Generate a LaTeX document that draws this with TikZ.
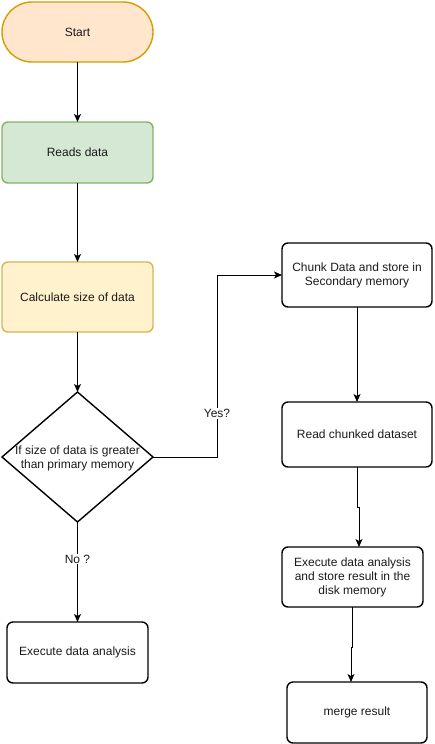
\documentclass[tikz,border=0pt]{standalone}
\usepackage{fontspec}
\setmainfont{Liberation Sans}
\usetikzlibrary{arrows.meta,shapes.geometric,calc}
\definecolor{startfill}{HTML}{FFE6CC}
\definecolor{startline}{HTML}{D79B00}
\definecolor{greenfill}{HTML}{D5E8D4}
\definecolor{greenline}{HTML}{82B366}
\definecolor{yellowfill}{HTML}{FFF2CC}
\definecolor{yellowline}{HTML}{D6B656}
\definecolor{txt}{HTML}{1A1A1A}
\begin{document}
\begin{tikzpicture}[x=1pt,y=-1pt,
  every node/.style={font=\fontsize{12}{14}\selectfont, text=txt, inner sep=0pt, outer sep=0pt},
  box/.style={draw, line width=1.4pt, rounded corners=6pt, align=center},
  arr/.style={draw, line width=1pt, -{Stealth[length=8pt,width=7pt,inset=2pt]}},
  lbl/.style={fill=white, inner sep=1pt}]
\useasboundingbox (0,0) rectangle (434,744);

% left column
\node[box, rounded corners=30pt, fill=startfill, draw=startline,
      minimum width=151pt, minimum height=60pt] (start) at (77.5,32) {Start};
\node[box, fill=greenfill, draw=greenline,
      minimum width=151pt, minimum height=61pt] (reads) at (77.5,152.5) {Reads data};
\node[box, fill=yellowfill, draw=yellowline,
      minimum width=151pt, minimum height=70pt] (calc) at (77.5,297) {Calculate size of data};
\node[draw, line width=1.4pt, diamond, minimum width=151pt, minimum height=130pt] (dia) at (77.5,457) {};
\node[align=center] (diatext) at (77.5,458) {If size of data is greater\\than primary memory};
\node[box, minimum width=141pt, minimum height=61pt] (exec1) at (77.5,652.5) {Execute data analysis};

% right column
\node[box, minimum width=150pt, minimum height=64pt] (chunk) at (357,275) {Chunk Data and store in\\Secondary memory};
\node[box, minimum width=150pt, minimum height=65pt] (readc) at (357,434.5) {Read chunked dataset};
\node[box, minimum width=141pt, minimum height=60pt] (exec2) at (352.5,577) {Execute data analysis\\and store result in the\\disk memory};
\node[box, minimum width=140pt, minimum height=61pt] (merge) at (357,712.5) {merge result};

% bend points
\coordinate (yesx) at (217,0);
\coordinate (j1) at (357,507);
\coordinate (j2) at (359,0);
\coordinate (j3) at (352,647);
\coordinate (j4) at (351,0);

% connectors
\draw[arr] (start.south) -- (reads.north);
\draw[arr] (reads.south) -- (calc.north);
\draw[arr] (calc.south) -- (dia.north);
\draw[arr] (dia.south) -- node[lbl, pos=0.37] (nolbl) {No ?} (exec1.north);
\draw[arr] (dia.east) -- (yesx |- dia.east) -- node[lbl, pos=0.24] (yeslbl) {Yes?} (yesx |- chunk.west) -- (chunk.west);
\draw[arr] (chunk.south) -- (readc.south |- chunk.south) -- (readc.north);
\draw[arr] (readc.south) -- (j1) -- (j1 -| j2) -- (j2 |- exec2.north);
\draw[arr] (exec2.south -| j3) -- (j3) -- (j3 -| j4) -- (j4 |- merge.north);
\end{tikzpicture}
\end{document}
